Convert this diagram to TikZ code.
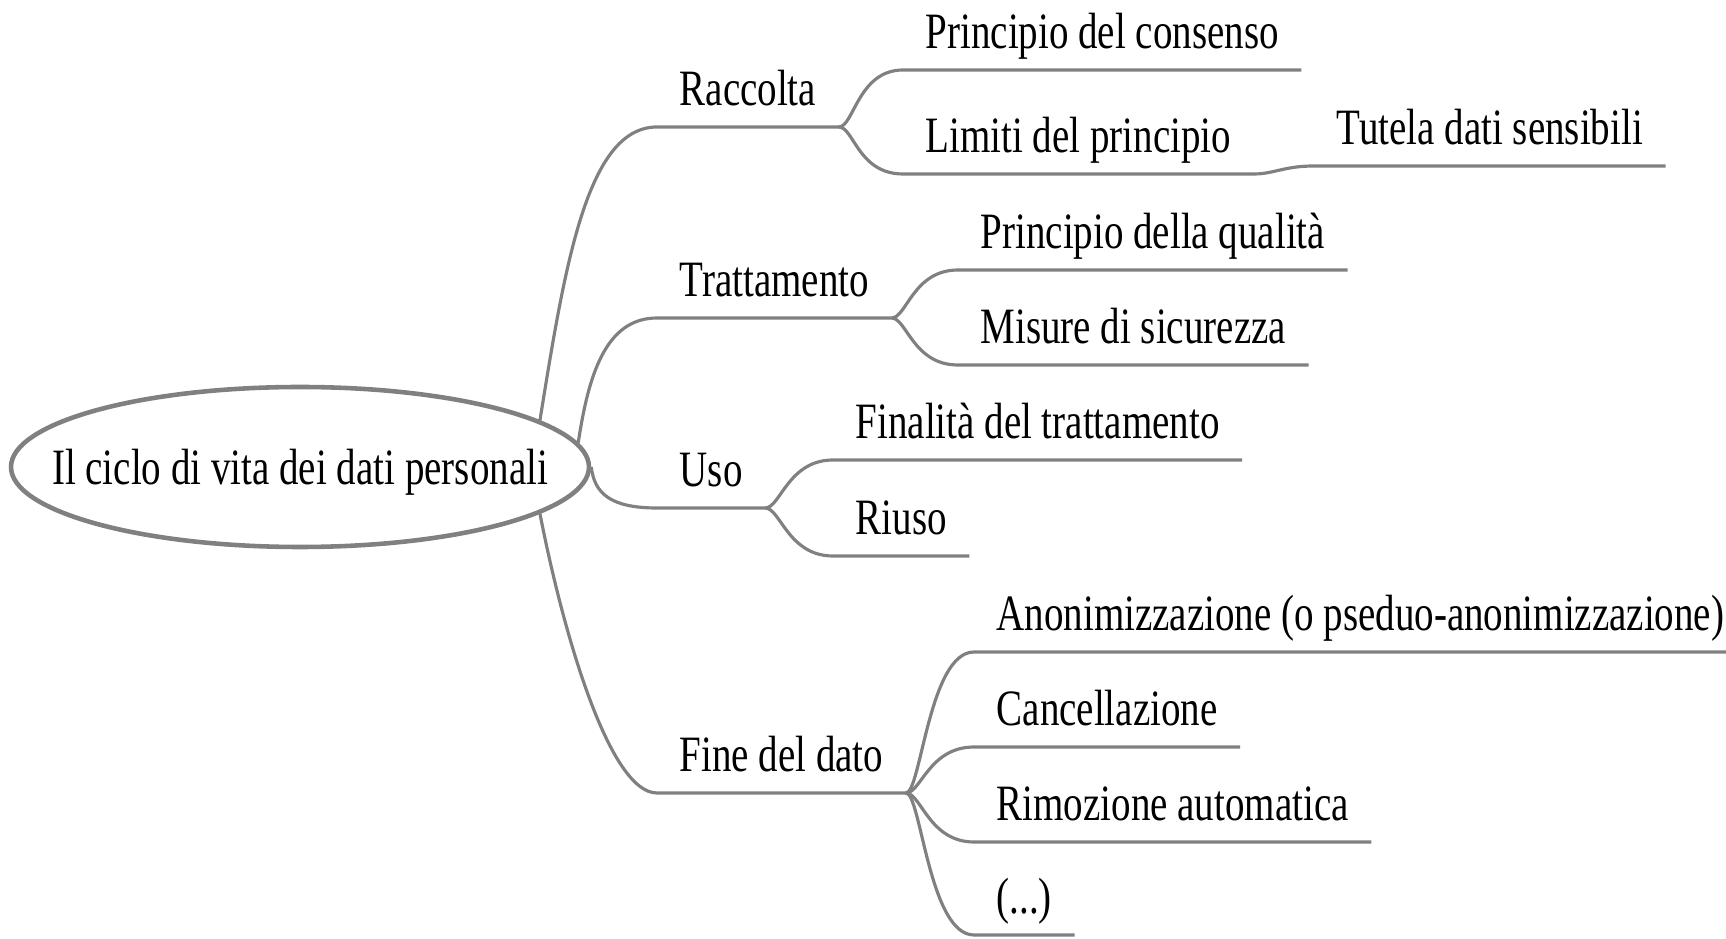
\documentclass[tikz,border=0pt]{standalone}
\usepackage{fontspec}
\setmainfont{Liberation Serif}[FakeStretch=0.765]
\usetikzlibrary{shapes.geometric}
\definecolor{linegray}{RGB}{128,128,128}
\tikzset{topic/.style={anchor=south west, inner xsep=0.22cm, inner ysep=0pt, text depth=0.21cm},
         branch/.style={draw=linegray, line width=0.9pt},
         rootnode/.style={ellipse, draw=linegray, line width=1.3pt, minimum width=5.78cm, minimum height=1.6cm, inner xsep=-0.6cm, inner ysep=0pt, text depth=0pt}}

\begin{document}
\begin{tikzpicture}[every node/.style={font=\fontsize{14.5pt}{17pt}\selectfont}]
                    \useasboundingbox (0,0) rectangle (17.26,9.38);
                    \node[rootnode] (ciclo) at (3.00,4.71) {Il ciclo di vita dei dati personali};

                    \node[topic] (racc) at (6.57,8.11) {Raccolta};
                    \node[topic] (tratt) at (6.57,6.20) {Trattamento};
                    \node[topic] (uso) at (6.57,4.30) {Uso};
                    \node[topic] (fine) at (6.57,1.45) {Fine del dato};

                    \draw[branch] (ciclo.11) .. controls +(0.25,1.55) and +(-0.7,0) .. (racc.south west) -- (racc.south east);
                    \draw[branch] (ciclo.5) .. controls +(0.1,0.66) and +(-0.52,0) .. (tratt.south west) -- (tratt.south east);
                    \draw[branch] (ciclo.east) .. controls +(0.03,-0.26) and +(-0.47,0) .. (uso.south west) -- (uso.south east);
                    \draw[branch] (ciclo.-11) .. controls +(0.24,-1.23) and +(-0.47,0) .. (fine.south west) -- (fine.south east);

                    \node[topic] (cons) at (9.03,8.68) {Principio del consenso};
                    \node[topic] (limiti) at (9.03,7.64) {Limiti del principio};
                    \node[topic] (tutela) at (13.14,7.72) {Tutela dati sensibili};
                    \node[topic] (qual) at (9.58,6.68) {Principio della qualità};
                    \node[topic] (misure) at (9.58,5.73) {Misure di sicurezza};
                    \node[topic] (final) at (8.33,4.78) {Finalità del trattamento};
                    \node[topic] (riuso) at (8.33,3.82) {Riuso};

                    \foreach \src/\dst in {racc/cons,racc/limiti,tratt/qual,tratt/misure,uso/final,uso/riuso}
                        \draw[branch] (\src.south east) .. controls +(0.15,0) and +(-0.45,0) .. (\dst.south west) -- (\dst.south east);
                    \draw[branch] (limiti.south east) .. controls +(0.2,0) and +(-0.3,0) .. (tutela.south west) -- (tutela.south east);

                    \foreach \t/\y[count=\n] in {{Anonimizzazione (o pseduo-anonimizzazione)}/2.86,Cancellazione/1.91,{Rimozione automatica}/0.96,{(...)}/0.03}{
                        \node[topic] (f\n) at (9.74,\y) {\t};
                        \draw[branch] (fine.south east) .. controls +(0.15,0) and +(-0.45,0) .. (f\n.south west) -- (f\n.south east);
                        }
                \end{tikzpicture}
\end{document}
